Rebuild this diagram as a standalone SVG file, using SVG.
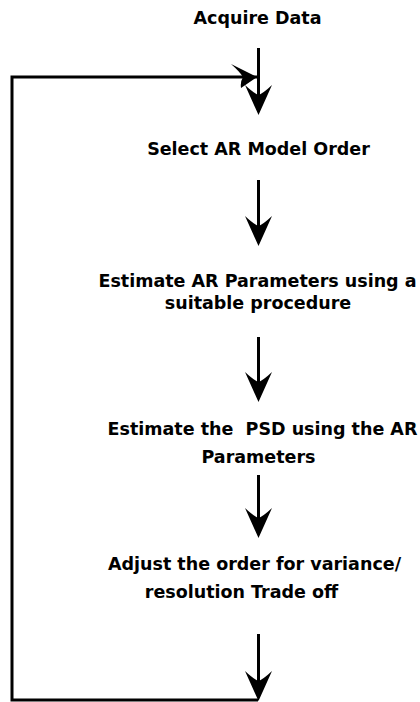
<svg xmlns="http://www.w3.org/2000/svg" width="420" height="702" viewBox="0 0 420 702">
<style>
  .lbl { font-family: "DejaVu Sans", Verdana, sans-serif; font-weight: bold; font-size: 17.5px; fill: #000; text-anchor: middle; white-space: pre; }
  .ln { stroke: #000; stroke-width: 3; fill: none; }
  .hd { fill: #000; stroke: none; }
</style>
<defs>
  <path id="head" d="M0,0 L-13.5,-30 Q-5,-22 0,-20 Q5,-22 13.5,-30 Z"/>
</defs>
<rect width="420" height="702" fill="#fff"/>
<g id="connectors">
  <path class="ln" d="M258,77 L12,77 L12,700 L258,700"/>
  <path class="hd" d="M257,77 L231,64 Q240,72 243,77 Q240,82 241,88 Z"/>
  <line class="ln" x1="258.5" y1="48" x2="258.5" y2="110"/>
  <use href="#head" class="hd" transform="translate(258.5,115)"/>
  <line class="ln" x1="258.5" y1="180" x2="258.5" y2="240"/>
  <use href="#head" class="hd" transform="translate(258.5,246)"/>
  <line class="ln" x1="258.5" y1="337" x2="258.5" y2="396"/>
  <use href="#head" class="hd" transform="translate(258.5,402)"/>
  <line class="ln" x1="258.5" y1="475" x2="258.5" y2="532"/>
  <use href="#head" class="hd" transform="translate(258.5,538)"/>
  <line class="ln" x1="258.5" y1="634" x2="258.5" y2="695"/>
  <use href="#head" class="hd" transform="translate(258.5,701)"/>
</g>
<g id="n1"><text class="lbl" x="257.5" y="24">Acquire Data</text></g>
<g id="n2"><text class="lbl" x="258.5" y="155">Select AR Model Order</text></g>
<g id="n3"><text class="lbl" x="257.5" y="287">Estimate AR Parameters using a</text><text class="lbl" x="258" y="309">suitable procedure</text></g>
<g id="n4"><text class="lbl" x="262.5" y="435">Estimate the  PSD using the AR</text><text class="lbl" x="258.5" y="463">Parameters</text></g>
<g id="n5"><text class="lbl" x="254.5" y="570">Adjust the order for variance/</text><text class="lbl" x="241.5" y="598">resolution Trade off</text></g>
</svg>
